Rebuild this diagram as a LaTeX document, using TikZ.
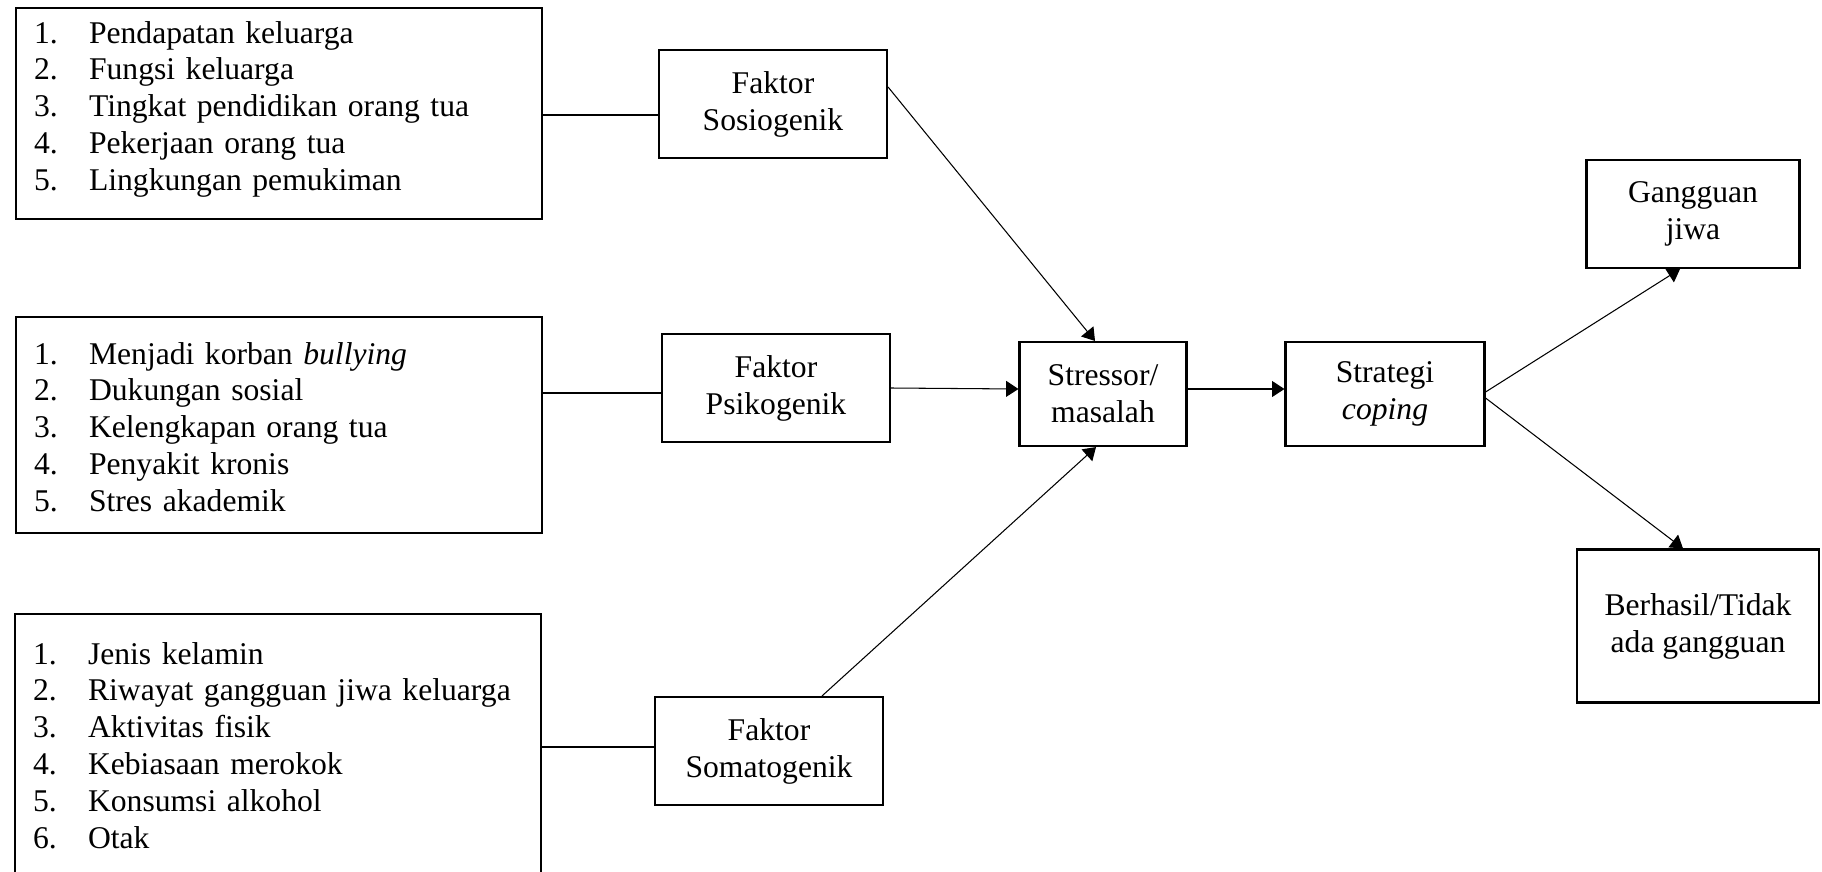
\documentclass[tikz,border=0pt]{standalone}
\usepackage{fontspec}
\setmainfont{Liberation Serif}
\usetikzlibrary{arrows.meta,positioning}
\newlength\pxl
\setlength\pxl{0.02cm}

\begin{document}
\begin{tikzpicture}[
    x=0.02cm, y=-0.02cm,
    font=\fontsize{18}{21}\selectfont,
    listbox/.style={rectangle, draw, line width=1.2pt, anchor=north west, inner xsep=18\pxl, inner ysep=0pt, text width=490\pxl, align=left},
    box/.style={rectangle, draw, line width=1.2pt, align=center},
    faktor/.style={box, minimum width=228\pxl, minimum height=108\pxl},
    link/.style={line width=1pt},
    arrow/.style={-{Triangle[length=7pt,width=9pt]}, line width=0.6pt}
]
\clip (0,0) rectangle (1822,872);

% Lists of factors
\node[listbox, text height=35\pxl, text depth=176\pxl] (list1) at (15,7) {%
\begin{tabular}[t]{@{}p{55\pxl}@{}l@{}}
1. & Pendapatan keluarga\\
2. & Fungsi keluarga\\
3. & Tingkat pendidikan orang tua\\
4. & Pekerjaan orang tua\\
5. & Lingkungan pemukiman
\end{tabular}};
\node[listbox, text height=47\pxl, text depth=169\pxl] (list2) at (15,316) {%
\begin{tabular}[t]{@{}p{55\pxl}@{}l@{}}
1. & Menjadi korban \textit{bullying}\\
2. & Dukungan sosial\\
3. & Kelengkapan orang tua\\
4. & Penyakit kronis\\
5. & Stres akademik
\end{tabular}};
\node[listbox, text height=50\pxl, text depth=280\pxl] (list3) at (14,613) {%
\begin{tabular}[t]{@{}p{55\pxl}@{}l@{}}
1. & Jenis kelamin\\
2. & Riwayat gangguan jiwa keluarga\\
3. & Aktivitas fisik\\
4. & Kebiasaan merokok\\
5. & Konsumsi alkohol\\
6. & Otak
\end{tabular}};

% Factors
\node[faktor] (faktor1) at (773,104) {Faktor\\Sosiogenik};
\node[faktor] (faktor2) at (776,388) {Faktor\\Psikogenik};
\node[faktor] (faktor3) at (769,751) {Faktor\\Somatogenik};

% Stressor and coping
\node[box, minimum width=167\pxl, minimum height=104\pxl] (stressor) at (1103,394) {Stressor/\\masalah};
\node[box, minimum width=199\pxl, minimum height=104\pxl] (coping) at (1385,394) {Strategi\\\textit{coping}};

% Outcomes
\node[box, minimum width=213\pxl, minimum height=108\pxl] (gangguan) at (1693,214) {Gangguan\\jiwa};
\node[box, minimum width=242\pxl, minimum height=153\pxl] (berhasil) at (1698,626) {Berhasil/Tidak\\ada gangguan};

% Lines
\draw[link] ([yshift=-11\pxl]faktor1.west -| list1.east) -- ([yshift=-11\pxl]faktor1.west);
\draw[link] ([yshift=-5\pxl]faktor2.west -| list2.east) -- ([yshift=-5\pxl]faktor2.west);
\draw[link] ([yshift=4\pxl]faktor3.west -| list3.east) -- ([yshift=4\pxl]faktor3.west);

% Arrows
\draw[arrow] ([yshift=17\pxl]faktor1.east) -- ([xshift=-8\pxl]stressor.north);
\draw[arrow] (faktor2.east) -- ([yshift=5\pxl]stressor.west);
\draw[arrow] ([xshift=53\pxl]faktor3.north) -- ([xshift=-7\pxl]stressor.south);
\draw[arrow] ([yshift=5\pxl]stressor.east) -- ([yshift=5\pxl]coping.west);
\draw[arrow] ([yshift=2\pxl]coping.east) -- ([xshift=-13\pxl]gangguan.south);
\draw[arrow] ([yshift=-4\pxl]coping.east) -- ([xshift=-15\pxl]berhasil.north);

\end{tikzpicture}
\end{document}
